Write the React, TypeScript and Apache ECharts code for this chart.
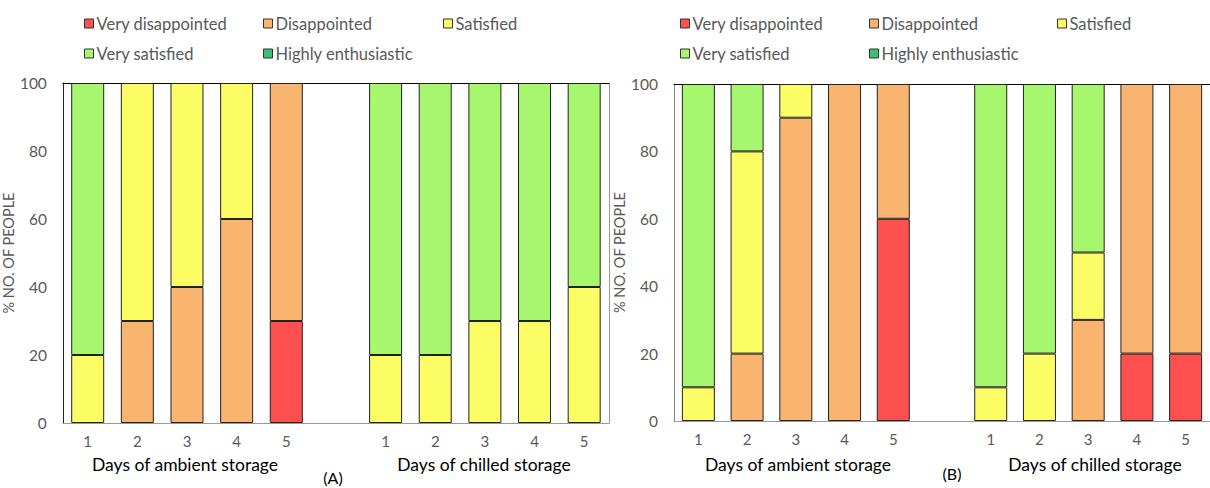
import React, { useEffect, useRef } from "react";
import * as echarts from "echarts";

const categories = ["1", "2", "3", "4", "5", "", "1", "2", "3", "4", "5"];
const seriesNames = ["Very disappointed", "Disappointed", "Satisfied", "Very satisfied", "Highly enthusiastic"];
const seriesColors = ["#FF5050", "#F9B470", "#FCFC64", "#A6F76E", "#3DBE7A"];
const yTicks = [0, 20, 40, 60, 80, 100];

// Panel A (null = gap slot)
const aVeryDisappointed = [0, 0, 0, 0, 30, null, 0, 0, 0, 0, 0];
const aDisappointed = [0, 30, 40, 60, 70, null, 0, 0, 0, 0, 0];
const aSatisfied = [20, 70, 60, 40, 0, null, 20, 20, 30, 30, 40];
const aVerySatisfied = [80, 0, 0, 0, 0, null, 80, 80, 70, 70, 60];
const aHighlyEnthusiastic = [0, 0, 0, 0, 0, null, 0, 0, 0, 0, 0];

// Panel B
const bVeryDisappointed = [0, 0, 0, 0, 60, null, 0, 0, 0, 20, 20];
const bDisappointed = [0, 20, 90, 100, 40, null, 0, 0, 30, 80, 80];
const bSatisfied = [10, 60, 10, 0, 0, null, 10, 20, 20, 0, 0];
const bVerySatisfied = [90, 20, 0, 0, 0, null, 90, 80, 50, 0, 0];
const bHighlyEnthusiastic = [0, 0, 0, 0, 0, null, 0, 0, 0, 0, 0];

const groupTitles = ["Days of ambient storage", "Days of chilled storage"];
const panelLabels = ["(A)", "(B)"];

const FONT = "Lato, 'Open Sans', sans-serif";

export default function App() {
  const ref = useRef<HTMLDivElement>(null);

  useEffect(() => {
    if (!ref.current) return;
    const chart = echarts.init(ref.current, null, { renderer: "svg" });

    const panels = [
      {
        data: [aVeryDisappointed, aDisappointed, aSatisfied, aVerySatisfied, aHighlyEnthusiastic],
        grid: { left: 60, top: 83, width: 549, height: 340 },
        leftColor: "#222",
        legendX: [84, 263, 443],
        legendY: [15, 45],
        titleX: [185, 484],
        titleY: 455,
        panelX: 333,
        panelY: 469,
        nameCenter: 252,
      },
      {
        data: [bVeryDisappointed, bDisappointed, bSatisfied, bVerySatisfied, bHighlyEnthusiastic],
        grid: { left: 674, top: 84, width: 547, height: 337 },
        leftColor: "#888",
        legendX: [680, 869, 1057],
        legendY: [15, 45],
        titleX: [798, 1095],
        titleY: 455,
        panelX: 952,
        panelY: 465,
        nameCenter: 245,
      },
    ];

    const grids: any[] = [];
    const xAxes: any[] = [];
    const yAxes: any[] = [];
    const series: any[] = [];
    const legends: any[] = [];
    const titles: any[] = [];

    panels.forEach((p, pi) => {
      grids.push({ ...p.grid, show: false, containLabel: false });
      xAxes.push({
        type: "category",
        gridIndex: pi,
        data: categories,
        position: "bottom",
        axisLine: { show: true, lineStyle: { color: "#999", width: 1 } },
        axisTick: { show: false },
        axisLabel: { color: "#595959", fontSize: 15, fontFamily: FONT, margin: 10 },
      });
      xAxes.push({
        type: "category",
        gridIndex: pi,
        data: categories,
        position: "top",
        axisLine: { show: true, onZero: false, lineStyle: { color: "#000", width: 1.2 } },
        axisTick: { show: false },
        axisLabel: { show: false },
      });
      yAxes.push({
        type: "value",
        gridIndex: pi,
        min: 0,
        max: 100,
        interval: 20,
        position: "left",
        name: "% NO. OF PEOPLE",
        nameLocation: "middle",
        nameGap: 42,
        nameTextStyle: { color: "#595959", fontSize: 14.5, fontFamily: FONT },
        axisLine: { show: true, lineStyle: { color: p.leftColor, width: 1 } },
        axisTick: { show: false },
        splitLine: { show: false },
        axisLabel: {
          color: "#595959",
          fontSize: 15.5,
          fontFamily: FONT,
          margin: 16,
          formatter: (v: number) => (yTicks.includes(v) ? String(v) : ""),
        },
      });
      yAxes.push({
        type: "value",
        gridIndex: pi,
        min: 0,
        max: 100,
        interval: 20,
        position: "right",
        axisLine: { show: true, lineStyle: { color: "#999", width: 1 } },
        axisTick: { show: false },
        splitLine: { show: false },
        axisLabel: { show: false },
      });

      p.data.forEach((vals, si) => {
        series.push({
          name: seriesNames[si],
          type: "bar",
          stack: "s" + pi,
          xAxisIndex: pi * 2,
          yAxisIndex: pi * 2,
          barWidth: 33,
          data: vals.map((v) => (v === null || v === 0 ? null : v)),
          itemStyle: { color: seriesColors[si], borderColor: "#222", borderWidth: 1 },
        });
      });

      seriesNames.forEach((nm, si) => {
        const row = si < 3 ? 0 : 1;
        const col = si < 3 ? si : si - 3;
        legends.push({
          data: [nm],
          left: p.legendX[col],
          top: p.legendY[row],
          padding: 0,
          icon: "rect",
          itemWidth: 9,
          itemHeight: 9,
          itemGap: 3,
          itemStyle: { borderColor: "#333", borderWidth: 1 },
          textStyle: { color: "#595959", fontSize: 16.5, fontFamily: FONT, padding: [0, 0, 0, -2] },
          selectedMode: false,
        });
      });

      groupTitles.forEach((t, ti) => {
        titles.push({
          text: t,
          left: p.titleX[ti],
          top: p.titleY,
          textAlign: "center",
          padding: 0,
          textStyle: { color: "#000", fontSize: 17.5, fontWeight: "normal", fontFamily: FONT },
        });
      });
      titles.push({
        text: panelLabels[pi],
        left: p.panelX,
        top: p.panelY,
        textAlign: "center",
        padding: 0,
        textStyle: { color: "#000", fontSize: 16, fontWeight: "normal", fontFamily: FONT },
      });
    });

    chart.setOption({
      animation: false,
      backgroundColor: "#fff",
      title: titles,
      legend: legends,
      grid: grids,
      xAxis: xAxes,
      yAxis: yAxes,
      series,
    });

    return () => chart.dispose();
  }, []);

  return (
    <div
      ref={ref}
      style={{ position: "fixed", left: 0, top: 0, width: 1210, height: 488, background: "#fff" }}
    />
  );
}
